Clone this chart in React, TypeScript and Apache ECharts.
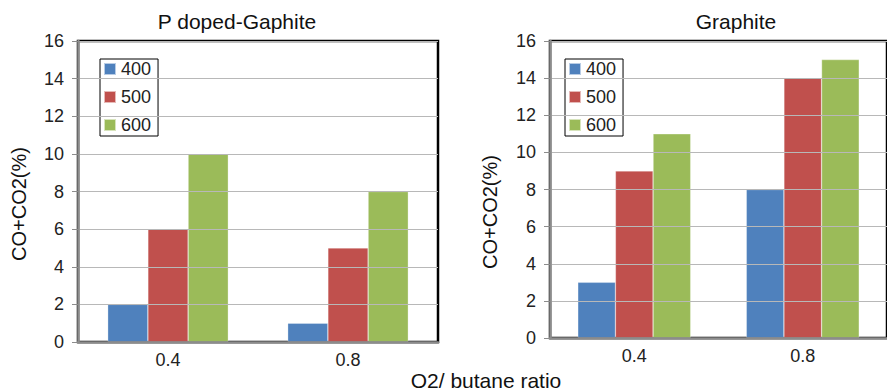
import React, { useEffect, useRef } from "react";
import * as echarts from "echarts";

const categories = ["0.4", "0.8"];
const seriesNames = ["400", "500", "600"];
const colors = ["#4F81BD", "#C0504D", "#9BBB59"];
const pDoped400 = [2, 1];
const pDoped500 = [6, 5];
const pDoped600 = [10, 8];
const graphite400 = [3, 8];
const graphite500 = [9, 14];
const graphite600 = [11, 15];
const leftTitle = "P doped-Gaphite";
const rightTitle = "Graphite";
const yTitle = "CO+CO2(%)";
const xTitle = "O2/ butane ratio";

const FONT = "Liberation Sans, Arial, Helvetica, sans-serif";

export default function App() {
  const ref = useRef<HTMLDivElement>(null);
  useEffect(() => {
    if (!ref.current) return;
    const chart = echarts.init(ref.current, undefined, { renderer: "svg" });
    const yAxisBase = (gridIndex: number) => ({
      type: "value",
      gridIndex,
      min: 0,
      max: 16,
      interval: 2,
      axisLine: { show: true, lineStyle: { color: "#8c8c8c", width: 2.5 } },
      axisTick: { show: true, length: 6, lineStyle: { color: "#8c8c8c", width: 1 } },
      axisLabel: { fontFamily: FONT, fontSize: 18, color: "#222", margin: 14 },
      splitLine: { show: true, lineStyle: { color: "#b8b8b8", width: 1 } },
      z: 5,
    });
    const xAxisBase = (gridIndex: number) => ({
      type: "category",
      gridIndex,
      data: categories,
      axisLine: { show: true, lineStyle: { color: "#8c8c8c", width: 2.5 } },
      axisTick: { show: false },
      axisLabel: { fontFamily: FONT, fontSize: 18, color: "#222", margin: 9 },
      z: 5,
    });
    const bar = (name: string, data: number[], idx: number, ci: number) => ({
      type: "bar",
      name,
      data,
      xAxisIndex: idx,
      yAxisIndex: idx,
      barGap: "0%",
      barCategoryGap: "33%",
      itemStyle: { color: colors[ci], borderColor: "rgba(255,255,255,0.6)", borderWidth: 0.5 },
    });
    const legendBase = (left: number) => ({
      data: seriesNames,
      orient: "vertical",
      left,
      top: 59,
      itemWidth: 12,
      itemHeight: 12,
      itemGap: 10,
      icon: "rect",
      padding: [1, 7, 2, 3],
      borderColor: "#000",
      borderWidth: 1,
      backgroundColor: "#fff",
      textStyle: { fontFamily: FONT, fontSize: 18, color: "#222" },
      selectedMode: false,
    });
    const txt = (text: string, x: number, y: number, size: number, rotation = 0) => ({
      type: "text",
      x,
      y,
      rotation,
      style: { text, fontFamily: FONT, fontSize: size, fill: "#111", textAlign: "center", textVerticalAlign: "middle" },
    });
    chart.setOption({
      animation: false,
      color: colors,
      grid: [
        { left: 78, top: 41, width: 360, height: 301, show: true, borderColor: "#000", borderWidth: 2.5, backgroundColor: "transparent" },
        { left: 550, top: 41, width: 339, height: 297, show: true, borderColor: "#000", borderWidth: 2.5, backgroundColor: "transparent" },
      ],
      xAxis: [xAxisBase(0), xAxisBase(1)],
      yAxis: [yAxisBase(0), yAxisBase(1)],
      legend: [legendBase(100), legendBase(565)],
      graphic: [
        txt(leftTitle, 237, 21, 21),
        txt(rightTitle, 736, 21, 21),
        txt(xTitle, 486, 380, 21),
        txt(yTitle, 19, 204, 20, Math.PI / 2),
        txt(yTitle, 490, 212, 20, Math.PI / 2),
      ],
      series: [
        bar(seriesNames[0], pDoped400, 0, 0),
        bar(seriesNames[1], pDoped500, 0, 1),
        bar(seriesNames[2], pDoped600, 0, 2),
        bar(seriesNames[0], graphite400, 1, 0),
        bar(seriesNames[1], graphite500, 1, 1),
        bar(seriesNames[2], graphite600, 1, 2),
      ],
    });
    return () => chart.dispose();
  }, []);
  return <div ref={ref} style={{ position: "absolute", left: 0, top: 0, width: 887, height: 390 }} />;
}
